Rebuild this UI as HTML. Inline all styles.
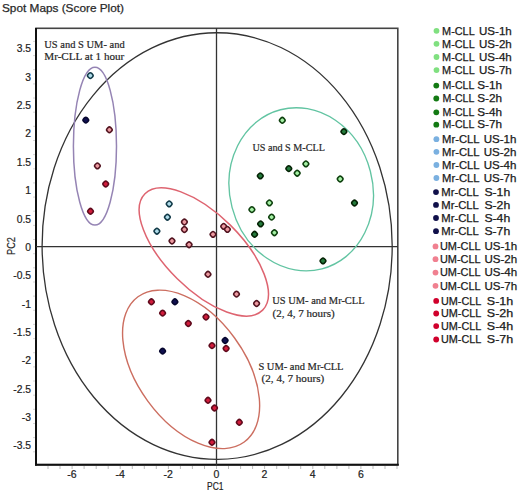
<!DOCTYPE html><html><head><meta charset="utf-8"><style>html,body{margin:0;padding:0;background:#fff;width:520px;height:492px;overflow:hidden}svg{display:block}</style></head><body>
<svg width="520" height="492" viewBox="0 0 520 492">
<rect width="520" height="492" fill="#fff"/>
<text x="2" y="12" font-family="Liberation Sans" font-size="11" fill="#2a2a2a" stroke="#2a2a2a" stroke-width="0.25" textLength="122" lengthAdjust="spacingAndGlyphs">Spot Maps (Score Plot)</text>
<rect x="36" y="28.3" width="361.8" height="436.4" fill="none" stroke="#444" stroke-width="1.6"/>
<line x1="36" y1="28" x2="36" y2="465.5" stroke="#111" stroke-width="2"/>
<line x1="35" y1="464.8" x2="398.8" y2="464.8" stroke="#111" stroke-width="2"/>
<line x1="36" y1="246.6" x2="398" y2="246.6" stroke="#333" stroke-width="1.3"/>
<line x1="216.5" y1="28" x2="216.5" y2="465" stroke="#333" stroke-width="1.3"/>
<line x1="48.0" y1="466" x2="48.0" y2="469" stroke="#aaa" stroke-width="0.8"/>
<line x1="60.0" y1="466" x2="60.0" y2="469" stroke="#aaa" stroke-width="0.8"/>
<line x1="72.1" y1="466" x2="72.1" y2="469" stroke="#aaa" stroke-width="0.8"/>
<line x1="84.1" y1="466" x2="84.1" y2="469" stroke="#aaa" stroke-width="0.8"/>
<line x1="96.2" y1="466" x2="96.2" y2="469" stroke="#aaa" stroke-width="0.8"/>
<line x1="108.2" y1="466" x2="108.2" y2="469" stroke="#aaa" stroke-width="0.8"/>
<line x1="120.2" y1="466" x2="120.2" y2="469" stroke="#aaa" stroke-width="0.8"/>
<line x1="132.3" y1="466" x2="132.3" y2="469" stroke="#aaa" stroke-width="0.8"/>
<line x1="144.3" y1="466" x2="144.3" y2="469" stroke="#aaa" stroke-width="0.8"/>
<line x1="156.3" y1="466" x2="156.3" y2="469" stroke="#aaa" stroke-width="0.8"/>
<line x1="168.4" y1="466" x2="168.4" y2="469" stroke="#aaa" stroke-width="0.8"/>
<line x1="180.4" y1="466" x2="180.4" y2="469" stroke="#aaa" stroke-width="0.8"/>
<line x1="192.4" y1="466" x2="192.4" y2="469" stroke="#aaa" stroke-width="0.8"/>
<line x1="204.5" y1="466" x2="204.5" y2="469" stroke="#aaa" stroke-width="0.8"/>
<line x1="216.5" y1="466" x2="216.5" y2="469" stroke="#aaa" stroke-width="0.8"/>
<line x1="228.5" y1="466" x2="228.5" y2="469" stroke="#aaa" stroke-width="0.8"/>
<line x1="240.6" y1="466" x2="240.6" y2="469" stroke="#aaa" stroke-width="0.8"/>
<line x1="252.6" y1="466" x2="252.6" y2="469" stroke="#aaa" stroke-width="0.8"/>
<line x1="264.6" y1="466" x2="264.6" y2="469" stroke="#aaa" stroke-width="0.8"/>
<line x1="276.7" y1="466" x2="276.7" y2="469" stroke="#aaa" stroke-width="0.8"/>
<line x1="288.7" y1="466" x2="288.7" y2="469" stroke="#aaa" stroke-width="0.8"/>
<line x1="300.7" y1="466" x2="300.7" y2="469" stroke="#aaa" stroke-width="0.8"/>
<line x1="312.8" y1="466" x2="312.8" y2="469" stroke="#aaa" stroke-width="0.8"/>
<line x1="324.8" y1="466" x2="324.8" y2="469" stroke="#aaa" stroke-width="0.8"/>
<line x1="336.9" y1="466" x2="336.9" y2="469" stroke="#aaa" stroke-width="0.8"/>
<line x1="348.9" y1="466" x2="348.9" y2="469" stroke="#aaa" stroke-width="0.8"/>
<line x1="360.9" y1="466" x2="360.9" y2="469" stroke="#aaa" stroke-width="0.8"/>
<line x1="373.0" y1="466" x2="373.0" y2="469" stroke="#aaa" stroke-width="0.8"/>
<line x1="385.0" y1="466" x2="385.0" y2="469" stroke="#aaa" stroke-width="0.8"/>
<line x1="397.0" y1="466" x2="397.0" y2="469" stroke="#aaa" stroke-width="0.8"/>
<line x1="33" y1="41.4" x2="35" y2="41.4" stroke="#ccc" stroke-width="0.8"/>
<line x1="33" y1="55.6" x2="35" y2="55.6" stroke="#ccc" stroke-width="0.8"/>
<line x1="33" y1="69.7" x2="35" y2="69.7" stroke="#ccc" stroke-width="0.8"/>
<line x1="33" y1="83.9" x2="35" y2="83.9" stroke="#ccc" stroke-width="0.8"/>
<line x1="33" y1="98.0" x2="35" y2="98.0" stroke="#ccc" stroke-width="0.8"/>
<line x1="33" y1="112.2" x2="35" y2="112.2" stroke="#ccc" stroke-width="0.8"/>
<line x1="33" y1="126.3" x2="35" y2="126.3" stroke="#ccc" stroke-width="0.8"/>
<line x1="33" y1="140.5" x2="35" y2="140.5" stroke="#ccc" stroke-width="0.8"/>
<line x1="33" y1="154.6" x2="35" y2="154.6" stroke="#ccc" stroke-width="0.8"/>
<line x1="33" y1="168.8" x2="35" y2="168.8" stroke="#ccc" stroke-width="0.8"/>
<line x1="33" y1="182.9" x2="35" y2="182.9" stroke="#ccc" stroke-width="0.8"/>
<line x1="33" y1="197.1" x2="35" y2="197.1" stroke="#ccc" stroke-width="0.8"/>
<line x1="33" y1="211.2" x2="35" y2="211.2" stroke="#ccc" stroke-width="0.8"/>
<line x1="33" y1="225.4" x2="35" y2="225.4" stroke="#ccc" stroke-width="0.8"/>
<line x1="33" y1="239.5" x2="35" y2="239.5" stroke="#ccc" stroke-width="0.8"/>
<line x1="33" y1="253.7" x2="35" y2="253.7" stroke="#ccc" stroke-width="0.8"/>
<line x1="33" y1="267.8" x2="35" y2="267.8" stroke="#ccc" stroke-width="0.8"/>
<line x1="33" y1="282.0" x2="35" y2="282.0" stroke="#ccc" stroke-width="0.8"/>
<line x1="33" y1="296.1" x2="35" y2="296.1" stroke="#ccc" stroke-width="0.8"/>
<line x1="33" y1="310.3" x2="35" y2="310.3" stroke="#ccc" stroke-width="0.8"/>
<line x1="33" y1="324.4" x2="35" y2="324.4" stroke="#ccc" stroke-width="0.8"/>
<line x1="33" y1="338.6" x2="35" y2="338.6" stroke="#ccc" stroke-width="0.8"/>
<line x1="33" y1="352.7" x2="35" y2="352.7" stroke="#ccc" stroke-width="0.8"/>
<line x1="33" y1="366.9" x2="35" y2="366.9" stroke="#ccc" stroke-width="0.8"/>
<line x1="33" y1="381.0" x2="35" y2="381.0" stroke="#ccc" stroke-width="0.8"/>
<line x1="33" y1="395.2" x2="35" y2="395.2" stroke="#ccc" stroke-width="0.8"/>
<line x1="33" y1="409.3" x2="35" y2="409.3" stroke="#ccc" stroke-width="0.8"/>
<line x1="33" y1="423.5" x2="35" y2="423.5" stroke="#ccc" stroke-width="0.8"/>
<line x1="33" y1="437.6" x2="35" y2="437.6" stroke="#ccc" stroke-width="0.8"/>
<line x1="33" y1="451.8" x2="35" y2="451.8" stroke="#ccc" stroke-width="0.8"/>
<text x="71.9" y="478" font-family="Liberation Sans" font-size="10.5" fill="#222" stroke="#222" stroke-width="0.2" text-anchor="middle">-6</text>
<text x="120.1" y="478" font-family="Liberation Sans" font-size="10.5" fill="#222" stroke="#222" stroke-width="0.2" text-anchor="middle">-4</text>
<text x="168.2" y="478" font-family="Liberation Sans" font-size="10.5" fill="#222" stroke="#222" stroke-width="0.2" text-anchor="middle">-2</text>
<text x="216.4" y="478" font-family="Liberation Sans" font-size="10.5" fill="#222" stroke="#222" stroke-width="0.2" text-anchor="middle">0</text>
<text x="264.5" y="478" font-family="Liberation Sans" font-size="10.5" fill="#222" stroke="#222" stroke-width="0.2" text-anchor="middle">2</text>
<text x="312.6" y="478" font-family="Liberation Sans" font-size="10.5" fill="#222" stroke="#222" stroke-width="0.2" text-anchor="middle">4</text>
<text x="360.8" y="478" font-family="Liberation Sans" font-size="10.5" fill="#222" stroke="#222" stroke-width="0.2" text-anchor="middle">6</text>
<text x="215.3" y="490.2" font-family="Liberation Sans" font-size="10.2" fill="#222" stroke="#222" stroke-width="0.2" text-anchor="middle" textLength="16.4" lengthAdjust="spacingAndGlyphs">PC1</text>
<text x="31" y="449.4" font-family="Liberation Sans" font-size="10.3" fill="#222" stroke="#222" stroke-width="0.2" text-anchor="end">-3.5</text>
<text x="31" y="421.0" font-family="Liberation Sans" font-size="10.3" fill="#222" stroke="#222" stroke-width="0.2" text-anchor="end">-3</text>
<text x="31" y="392.7" font-family="Liberation Sans" font-size="10.3" fill="#222" stroke="#222" stroke-width="0.2" text-anchor="end">-2.5</text>
<text x="31" y="364.3" font-family="Liberation Sans" font-size="10.3" fill="#222" stroke="#222" stroke-width="0.2" text-anchor="end">-2</text>
<text x="31" y="335.9" font-family="Liberation Sans" font-size="10.3" fill="#222" stroke="#222" stroke-width="0.2" text-anchor="end">-1.5</text>
<text x="31" y="307.6" font-family="Liberation Sans" font-size="10.3" fill="#222" stroke="#222" stroke-width="0.2" text-anchor="end">-1</text>
<text x="31" y="279.2" font-family="Liberation Sans" font-size="10.3" fill="#222" stroke="#222" stroke-width="0.2" text-anchor="end">-0.5</text>
<text x="31" y="250.9" font-family="Liberation Sans" font-size="10.3" fill="#222" stroke="#222" stroke-width="0.2" text-anchor="end">0</text>
<text x="31" y="222.5" font-family="Liberation Sans" font-size="10.3" fill="#222" stroke="#222" stroke-width="0.2" text-anchor="end">0.5</text>
<text x="31" y="194.1" font-family="Liberation Sans" font-size="10.3" fill="#222" stroke="#222" stroke-width="0.2" text-anchor="end">1</text>
<text x="31" y="165.8" font-family="Liberation Sans" font-size="10.3" fill="#222" stroke="#222" stroke-width="0.2" text-anchor="end">1.5</text>
<text x="31" y="137.4" font-family="Liberation Sans" font-size="10.3" fill="#222" stroke="#222" stroke-width="0.2" text-anchor="end">2</text>
<text x="31" y="109.1" font-family="Liberation Sans" font-size="10.3" fill="#222" stroke="#222" stroke-width="0.2" text-anchor="end">2.5</text>
<text x="31" y="80.7" font-family="Liberation Sans" font-size="10.3" fill="#222" stroke="#222" stroke-width="0.2" text-anchor="end">3</text>
<text x="31" y="52.3" font-family="Liberation Sans" font-size="10.3" fill="#222" stroke="#222" stroke-width="0.2" text-anchor="end">3.5</text>
<text transform="translate(15.0,246) rotate(-90)" font-family="Liberation Sans" font-size="10.2" fill="#222" stroke="#222" stroke-width="0.2" text-anchor="middle" textLength="17.8" lengthAdjust="spacingAndGlyphs">PC2</text>
<ellipse cx="217.15" cy="246.05" rx="175.04" ry="213.29" transform="rotate(-0.18 217.15 246.05)" fill="none" stroke="#333" stroke-width="1.3"/>
<ellipse cx="94.95" cy="146.2" rx="21.55" ry="78.9" transform="rotate(0 94.95 146.2)" fill="none" stroke="#9584b4" stroke-width="1.5"/>
<ellipse cx="301.2" cy="189.3" rx="71.46" ry="82.21" transform="rotate(-14.63 301.2 189.3)" fill="none" stroke="#62c4a2" stroke-width="1.35"/>
<ellipse cx="203.8" cy="251.95" rx="82.75" ry="37.71" transform="rotate(44.68 203.8 251.95)" fill="none" stroke="#de6470" stroke-width="1.5"/>
<ellipse cx="191.1" cy="369.4" rx="90.0" ry="53.66" transform="rotate(53.82 191.1 369.4)" fill="none" stroke="#cc6e60" stroke-width="1.4"/>
<rect x="-2.5" y="-2.5" width="5.0" height="5.0" rx="1.9" transform="translate(90.3 75.6) rotate(45)" fill="#b0dcea" stroke="#123a48" stroke-width="1.55"/>
<rect x="-2.5" y="-2.5" width="5.0" height="5.0" rx="1.9" transform="translate(169.2 203.9) rotate(45)" fill="#b0dcea" stroke="#123a48" stroke-width="1.55"/>
<rect x="-2.5" y="-2.5" width="5.0" height="5.0" rx="1.9" transform="translate(167.4 217.2) rotate(45)" fill="#b0dcea" stroke="#123a48" stroke-width="1.55"/>
<rect x="-2.5" y="-2.5" width="5.0" height="5.0" rx="1.9" transform="translate(156.9 231.2) rotate(45)" fill="#b0dcea" stroke="#123a48" stroke-width="1.55"/>
<rect x="-2.5" y="-2.5" width="5.0" height="5.0" rx="1.9" transform="translate(85.8 120.1) rotate(45)" fill="#101050" stroke="#06062e" stroke-width="1.55"/>
<rect x="-2.5" y="-2.5" width="5.0" height="5.0" rx="1.9" transform="translate(174.9 301.8) rotate(45)" fill="#101050" stroke="#06062e" stroke-width="1.55"/>
<rect x="-2.5" y="-2.5" width="5.0" height="5.0" rx="1.9" transform="translate(225.1 340.5) rotate(45)" fill="#101050" stroke="#06062e" stroke-width="1.55"/>
<rect x="-2.5" y="-2.5" width="5.0" height="5.0" rx="1.9" transform="translate(162.6 351.1) rotate(45)" fill="#101050" stroke="#06062e" stroke-width="1.55"/>
<rect x="-2.5" y="-2.5" width="5.0" height="5.0" rx="1.9" transform="translate(109.4 129.8) rotate(45)" fill="#ec9aa0" stroke="#521420" stroke-width="1.55"/>
<rect x="-2.5" y="-2.5" width="5.0" height="5.0" rx="1.9" transform="translate(97.4 165.9) rotate(45)" fill="#ec9aa0" stroke="#521420" stroke-width="1.55"/>
<rect x="-2.5" y="-2.5" width="5.0" height="5.0" rx="1.9" transform="translate(184.4 222.0) rotate(45)" fill="#ec9aa0" stroke="#521420" stroke-width="1.55"/>
<rect x="-2.5" y="-2.5" width="5.0" height="5.0" rx="1.9" transform="translate(184.4 229.5) rotate(45)" fill="#ec9aa0" stroke="#521420" stroke-width="1.55"/>
<rect x="-2.5" y="-2.5" width="5.0" height="5.0" rx="1.9" transform="translate(172.0 241.0) rotate(45)" fill="#ec9aa0" stroke="#521420" stroke-width="1.55"/>
<rect x="-2.5" y="-2.5" width="5.0" height="5.0" rx="1.9" transform="translate(189.1 244.7) rotate(45)" fill="#ec9aa0" stroke="#521420" stroke-width="1.55"/>
<rect x="-2.5" y="-2.5" width="5.0" height="5.0" rx="1.9" transform="translate(213.0 234.4) rotate(45)" fill="#ec9aa0" stroke="#521420" stroke-width="1.55"/>
<rect x="-2.5" y="-2.5" width="5.0" height="5.0" rx="1.9" transform="translate(223.7 226.4) rotate(45)" fill="#ec9aa0" stroke="#521420" stroke-width="1.55"/>
<rect x="-2.5" y="-2.5" width="5.0" height="5.0" rx="1.9" transform="translate(227.4 229.4) rotate(45)" fill="#ec9aa0" stroke="#521420" stroke-width="1.55"/>
<rect x="-2.5" y="-2.5" width="5.0" height="5.0" rx="1.9" transform="translate(208.0 274.3) rotate(45)" fill="#ec9aa0" stroke="#521420" stroke-width="1.55"/>
<rect x="-2.5" y="-2.5" width="5.0" height="5.0" rx="1.9" transform="translate(236.5 294.1) rotate(45)" fill="#ec9aa0" stroke="#521420" stroke-width="1.55"/>
<rect x="-2.5" y="-2.5" width="5.0" height="5.0" rx="1.9" transform="translate(256.6 303.5) rotate(45)" fill="#ec9aa0" stroke="#521420" stroke-width="1.55"/>
<rect x="-2.5" y="-2.5" width="5.0" height="5.0" rx="1.9" transform="translate(105.7 184.0) rotate(45)" fill="#d21c3c" stroke="#600a1c" stroke-width="1.55"/>
<rect x="-2.5" y="-2.5" width="5.0" height="5.0" rx="1.9" transform="translate(90.5 211.3) rotate(45)" fill="#d21c3c" stroke="#600a1c" stroke-width="1.55"/>
<rect x="-2.5" y="-2.5" width="5.0" height="5.0" rx="1.9" transform="translate(151.4 301.8) rotate(45)" fill="#d21c3c" stroke="#600a1c" stroke-width="1.55"/>
<rect x="-2.5" y="-2.5" width="5.0" height="5.0" rx="1.9" transform="translate(162.6 313.1) rotate(45)" fill="#d21c3c" stroke="#600a1c" stroke-width="1.55"/>
<rect x="-2.5" y="-2.5" width="5.0" height="5.0" rx="1.9" transform="translate(188.3 323.5) rotate(45)" fill="#d21c3c" stroke="#600a1c" stroke-width="1.55"/>
<rect x="-2.5" y="-2.5" width="5.0" height="5.0" rx="1.9" transform="translate(206.0 317.0) rotate(45)" fill="#d21c3c" stroke="#600a1c" stroke-width="1.55"/>
<rect x="-2.5" y="-2.5" width="5.0" height="5.0" rx="1.9" transform="translate(212.0 345.6) rotate(45)" fill="#d21c3c" stroke="#600a1c" stroke-width="1.55"/>
<rect x="-2.5" y="-2.5" width="5.0" height="5.0" rx="1.9" transform="translate(226.1 348.5) rotate(45)" fill="#d21c3c" stroke="#600a1c" stroke-width="1.55"/>
<rect x="-2.5" y="-2.5" width="5.0" height="5.0" rx="1.9" transform="translate(208.0 400.3) rotate(45)" fill="#d21c3c" stroke="#600a1c" stroke-width="1.55"/>
<rect x="-2.5" y="-2.5" width="5.0" height="5.0" rx="1.9" transform="translate(214.5 408.0) rotate(45)" fill="#d21c3c" stroke="#600a1c" stroke-width="1.55"/>
<rect x="-2.5" y="-2.5" width="5.0" height="5.0" rx="1.9" transform="translate(239.3 422.3) rotate(45)" fill="#d21c3c" stroke="#600a1c" stroke-width="1.55"/>
<rect x="-2.5" y="-2.5" width="5.0" height="5.0" rx="1.9" transform="translate(212.0 442.3) rotate(45)" fill="#d21c3c" stroke="#600a1c" stroke-width="1.55"/>
<rect x="-2.5" y="-2.5" width="5.0" height="5.0" rx="1.9" transform="translate(282.3 120.3) rotate(45)" fill="#a4f0a4" stroke="#0e400e" stroke-width="1.55"/>
<rect x="-2.5" y="-2.5" width="5.0" height="5.0" rx="1.9" transform="translate(305.9 163.9) rotate(45)" fill="#a4f0a4" stroke="#0e400e" stroke-width="1.55"/>
<rect x="-2.5" y="-2.5" width="5.0" height="5.0" rx="1.9" transform="translate(297.2 173.2) rotate(45)" fill="#a4f0a4" stroke="#0e400e" stroke-width="1.55"/>
<rect x="-2.5" y="-2.5" width="5.0" height="5.0" rx="1.9" transform="translate(340.2 179.0) rotate(45)" fill="#a4f0a4" stroke="#0e400e" stroke-width="1.55"/>
<rect x="-2.5" y="-2.5" width="5.0" height="5.0" rx="1.9" transform="translate(269.4 202.9) rotate(45)" fill="#a4f0a4" stroke="#0e400e" stroke-width="1.55"/>
<rect x="-2.5" y="-2.5" width="5.0" height="5.0" rx="1.9" transform="translate(251.9 209.6) rotate(45)" fill="#a4f0a4" stroke="#0e400e" stroke-width="1.55"/>
<rect x="-2.5" y="-2.5" width="5.0" height="5.0" rx="1.9" transform="translate(271.6 217.1) rotate(45)" fill="#a4f0a4" stroke="#0e400e" stroke-width="1.55"/>
<rect x="-2.5" y="-2.5" width="5.0" height="5.0" rx="1.9" transform="translate(274.4 232.7) rotate(45)" fill="#a4f0a4" stroke="#0e400e" stroke-width="1.55"/>
<rect x="-2.5" y="-2.5" width="5.0" height="5.0" rx="1.9" transform="translate(343.9 131.6) rotate(45)" fill="#247a3c" stroke="#042204" stroke-width="1.55"/>
<rect x="-2.5" y="-2.5" width="5.0" height="5.0" rx="1.9" transform="translate(288.8 168.6) rotate(45)" fill="#247a3c" stroke="#042204" stroke-width="1.55"/>
<rect x="-2.5" y="-2.5" width="5.0" height="5.0" rx="1.9" transform="translate(260.3 175.9) rotate(45)" fill="#247a3c" stroke="#042204" stroke-width="1.55"/>
<rect x="-2.5" y="-2.5" width="5.0" height="5.0" rx="1.9" transform="translate(354.5 203.0) rotate(45)" fill="#247a3c" stroke="#042204" stroke-width="1.55"/>
<rect x="-2.5" y="-2.5" width="5.0" height="5.0" rx="1.9" transform="translate(260.6 223.9) rotate(45)" fill="#247a3c" stroke="#042204" stroke-width="1.55"/>
<rect x="-2.5" y="-2.5" width="5.0" height="5.0" rx="1.9" transform="translate(254.6 234.3) rotate(45)" fill="#247a3c" stroke="#042204" stroke-width="1.55"/>
<rect x="-2.5" y="-2.5" width="5.0" height="5.0" rx="1.9" transform="translate(323.0 260.9) rotate(45)" fill="#247a3c" stroke="#042204" stroke-width="1.55"/>
<text x="44.3" y="47.8" textLength="80.4" lengthAdjust="spacingAndGlyphs" font-family="Liberation Serif" font-size="10.5" fill="#262626" stroke="#262626" stroke-width="0.2">US and S UM- and</text>
<text x="44.3" y="60" textLength="80.0" lengthAdjust="spacingAndGlyphs" font-family="Liberation Serif" font-size="10.5" fill="#262626" stroke="#262626" stroke-width="0.2">Mr-CLL at 1 hour</text>
<text x="252.4" y="151.2" textLength="72.5" lengthAdjust="spacingAndGlyphs" font-family="Liberation Serif" font-size="10.5" fill="#262626" stroke="#262626" stroke-width="0.2">US and S M-CLL</text>
<text x="272.3" y="303.7" textLength="92.3" lengthAdjust="spacingAndGlyphs" font-family="Liberation Serif" font-size="10.5" fill="#262626" stroke="#262626" stroke-width="0.2">US UM- and Mr-CLL</text>
<text x="272.5" y="316.5" textLength="62.1" lengthAdjust="spacingAndGlyphs" font-family="Liberation Serif" font-size="10.5" fill="#262626" stroke="#262626" stroke-width="0.2">(2, 4, 7 hours)</text>
<text x="258.4" y="370" textLength="85.1" lengthAdjust="spacingAndGlyphs" font-family="Liberation Serif" font-size="10.5" fill="#262626" stroke="#262626" stroke-width="0.2">S UM- and Mr-CLL</text>
<text x="261.6" y="381.9" textLength="62.6" lengthAdjust="spacingAndGlyphs" font-family="Liberation Serif" font-size="10.5" fill="#262626" stroke="#262626" stroke-width="0.2">(2, 4, 7 hours)</text>
<circle cx="436.5" cy="30.8" r="2.9" fill="#80e080"/>
<text x="442.1" y="34.5" textLength="32.6" font-family="Liberation Sans" font-size="10.5" fill="#1a1a1a" stroke="#1a1a1a" stroke-width="0.25" lengthAdjust="spacingAndGlyphs">M-CLL</text>
<text x="479.0" y="34.5" textLength="32.8" font-family="Liberation Sans" font-size="10.5" fill="#1a1a1a" stroke="#1a1a1a" stroke-width="0.25" lengthAdjust="spacingAndGlyphs">US-1h</text>
<circle cx="436.5" cy="43.8" r="2.9" fill="#80e080"/>
<text x="442.1" y="47.5" textLength="32.6" font-family="Liberation Sans" font-size="10.5" fill="#1a1a1a" stroke="#1a1a1a" stroke-width="0.25" lengthAdjust="spacingAndGlyphs">M-CLL</text>
<text x="479.0" y="47.5" textLength="32.8" font-family="Liberation Sans" font-size="10.5" fill="#1a1a1a" stroke="#1a1a1a" stroke-width="0.25" lengthAdjust="spacingAndGlyphs">US-2h</text>
<circle cx="436.5" cy="57.0" r="2.9" fill="#80e080"/>
<text x="442.1" y="60.7" textLength="32.6" font-family="Liberation Sans" font-size="10.5" fill="#1a1a1a" stroke="#1a1a1a" stroke-width="0.25" lengthAdjust="spacingAndGlyphs">M-CLL</text>
<text x="479.0" y="60.7" textLength="32.8" font-family="Liberation Sans" font-size="10.5" fill="#1a1a1a" stroke="#1a1a1a" stroke-width="0.25" lengthAdjust="spacingAndGlyphs">US-4h</text>
<circle cx="436.5" cy="70.1" r="2.9" fill="#80e080"/>
<text x="442.1" y="73.8" textLength="32.6" font-family="Liberation Sans" font-size="10.5" fill="#1a1a1a" stroke="#1a1a1a" stroke-width="0.25" lengthAdjust="spacingAndGlyphs">M-CLL</text>
<text x="479.0" y="73.8" textLength="32.8" font-family="Liberation Sans" font-size="10.5" fill="#1a1a1a" stroke="#1a1a1a" stroke-width="0.25" lengthAdjust="spacingAndGlyphs">US-7h</text>
<circle cx="436.3" cy="85.6" r="2.9" fill="#137a13"/>
<text x="442.5" y="89.3" textLength="31.9" font-family="Liberation Sans" font-size="10.5" fill="#1a1a1a" stroke="#1a1a1a" stroke-width="0.25" lengthAdjust="spacingAndGlyphs">M-CLL</text>
<text x="477.2" y="89.3" textLength="24.8" font-family="Liberation Sans" font-size="10.5" fill="#1a1a1a" stroke="#1a1a1a" stroke-width="0.25" lengthAdjust="spacingAndGlyphs">S-1h</text>
<circle cx="436.3" cy="98.5" r="2.9" fill="#137a13"/>
<text x="442.5" y="102.2" textLength="31.9" font-family="Liberation Sans" font-size="10.5" fill="#1a1a1a" stroke="#1a1a1a" stroke-width="0.25" lengthAdjust="spacingAndGlyphs">M-CLL</text>
<text x="477.2" y="102.2" textLength="24.8" font-family="Liberation Sans" font-size="10.5" fill="#1a1a1a" stroke="#1a1a1a" stroke-width="0.25" lengthAdjust="spacingAndGlyphs">S-2h</text>
<circle cx="436.3" cy="112.3" r="2.9" fill="#137a13"/>
<text x="442.5" y="116.0" textLength="31.9" font-family="Liberation Sans" font-size="10.5" fill="#1a1a1a" stroke="#1a1a1a" stroke-width="0.25" lengthAdjust="spacingAndGlyphs">M-CLL</text>
<text x="477.2" y="116.0" textLength="24.8" font-family="Liberation Sans" font-size="10.5" fill="#1a1a1a" stroke="#1a1a1a" stroke-width="0.25" lengthAdjust="spacingAndGlyphs">S-4h</text>
<circle cx="436.3" cy="124.7" r="2.9" fill="#137a13"/>
<text x="442.5" y="128.4" textLength="31.9" font-family="Liberation Sans" font-size="10.5" fill="#1a1a1a" stroke="#1a1a1a" stroke-width="0.25" lengthAdjust="spacingAndGlyphs">M-CLL</text>
<text x="477.2" y="128.4" textLength="24.8" font-family="Liberation Sans" font-size="10.5" fill="#1a1a1a" stroke="#1a1a1a" stroke-width="0.25" lengthAdjust="spacingAndGlyphs">S-7h</text>
<circle cx="436.4" cy="139.2" r="2.9" fill="#7ab0e0"/>
<text x="442.1" y="142.9" textLength="37.5" font-family="Liberation Sans" font-size="10.5" fill="#1a1a1a" stroke="#1a1a1a" stroke-width="0.25" lengthAdjust="spacingAndGlyphs">Mr-CLL</text>
<text x="483.7" y="142.9" textLength="32.8" font-family="Liberation Sans" font-size="10.5" fill="#1a1a1a" stroke="#1a1a1a" stroke-width="0.25" lengthAdjust="spacingAndGlyphs">US-1h</text>
<circle cx="436.4" cy="151.8" r="2.9" fill="#7ab0e0"/>
<text x="442.1" y="155.5" textLength="37.5" font-family="Liberation Sans" font-size="10.5" fill="#1a1a1a" stroke="#1a1a1a" stroke-width="0.25" lengthAdjust="spacingAndGlyphs">Mr-CLL</text>
<text x="483.7" y="155.5" textLength="32.8" font-family="Liberation Sans" font-size="10.5" fill="#1a1a1a" stroke="#1a1a1a" stroke-width="0.25" lengthAdjust="spacingAndGlyphs">US-2h</text>
<circle cx="436.4" cy="165.0" r="2.9" fill="#7ab0e0"/>
<text x="442.1" y="168.7" textLength="37.5" font-family="Liberation Sans" font-size="10.5" fill="#1a1a1a" stroke="#1a1a1a" stroke-width="0.25" lengthAdjust="spacingAndGlyphs">Mr-CLL</text>
<text x="483.7" y="168.7" textLength="32.8" font-family="Liberation Sans" font-size="10.5" fill="#1a1a1a" stroke="#1a1a1a" stroke-width="0.25" lengthAdjust="spacingAndGlyphs">US-4h</text>
<circle cx="436.4" cy="178.0" r="2.9" fill="#7ab0e0"/>
<text x="442.1" y="181.7" textLength="37.5" font-family="Liberation Sans" font-size="10.5" fill="#1a1a1a" stroke="#1a1a1a" stroke-width="0.25" lengthAdjust="spacingAndGlyphs">Mr-CLL</text>
<text x="483.7" y="181.7" textLength="32.8" font-family="Liberation Sans" font-size="10.5" fill="#1a1a1a" stroke="#1a1a1a" stroke-width="0.25" lengthAdjust="spacingAndGlyphs">US-7h</text>
<circle cx="436.0" cy="192.1" r="2.9" fill="#10104a"/>
<text x="441.3" y="195.8" textLength="37.6" font-family="Liberation Sans" font-size="10.5" fill="#1a1a1a" stroke="#1a1a1a" stroke-width="0.25" lengthAdjust="spacingAndGlyphs">Mr-CLL</text>
<text x="484.4" y="195.8" textLength="25.8" font-family="Liberation Sans" font-size="10.5" fill="#1a1a1a" stroke="#1a1a1a" stroke-width="0.25" lengthAdjust="spacingAndGlyphs">S-1h</text>
<circle cx="436.0" cy="204.9" r="2.9" fill="#10104a"/>
<text x="441.3" y="208.6" textLength="37.6" font-family="Liberation Sans" font-size="10.5" fill="#1a1a1a" stroke="#1a1a1a" stroke-width="0.25" lengthAdjust="spacingAndGlyphs">Mr-CLL</text>
<text x="484.4" y="208.6" textLength="25.8" font-family="Liberation Sans" font-size="10.5" fill="#1a1a1a" stroke="#1a1a1a" stroke-width="0.25" lengthAdjust="spacingAndGlyphs">S-2h</text>
<circle cx="436.0" cy="218.0" r="2.9" fill="#10104a"/>
<text x="441.3" y="221.7" textLength="37.6" font-family="Liberation Sans" font-size="10.5" fill="#1a1a1a" stroke="#1a1a1a" stroke-width="0.25" lengthAdjust="spacingAndGlyphs">Mr-CLL</text>
<text x="484.4" y="221.7" textLength="25.8" font-family="Liberation Sans" font-size="10.5" fill="#1a1a1a" stroke="#1a1a1a" stroke-width="0.25" lengthAdjust="spacingAndGlyphs">S-4h</text>
<circle cx="436.0" cy="231.2" r="2.9" fill="#10104a"/>
<text x="441.3" y="234.9" textLength="37.6" font-family="Liberation Sans" font-size="10.5" fill="#1a1a1a" stroke="#1a1a1a" stroke-width="0.25" lengthAdjust="spacingAndGlyphs">Mr-CLL</text>
<text x="484.4" y="234.9" textLength="25.8" font-family="Liberation Sans" font-size="10.5" fill="#1a1a1a" stroke="#1a1a1a" stroke-width="0.25" lengthAdjust="spacingAndGlyphs">S-7h</text>
<circle cx="435.5" cy="246.4" r="2.9" fill="#f08090"/>
<text x="439.9" y="250.1" textLength="40.7" font-family="Liberation Sans" font-size="10.5" fill="#1a1a1a" stroke="#1a1a1a" stroke-width="0.25" lengthAdjust="spacingAndGlyphs">UM-CLL</text>
<text x="484.4" y="250.1" textLength="32.7" font-family="Liberation Sans" font-size="10.5" fill="#1a1a1a" stroke="#1a1a1a" stroke-width="0.25" lengthAdjust="spacingAndGlyphs">US-1h</text>
<circle cx="435.5" cy="259.2" r="2.9" fill="#f08090"/>
<text x="439.9" y="262.9" textLength="40.7" font-family="Liberation Sans" font-size="10.5" fill="#1a1a1a" stroke="#1a1a1a" stroke-width="0.25" lengthAdjust="spacingAndGlyphs">UM-CLL</text>
<text x="484.4" y="262.9" textLength="32.7" font-family="Liberation Sans" font-size="10.5" fill="#1a1a1a" stroke="#1a1a1a" stroke-width="0.25" lengthAdjust="spacingAndGlyphs">US-2h</text>
<circle cx="435.5" cy="272.6" r="2.9" fill="#f08090"/>
<text x="439.9" y="276.3" textLength="40.7" font-family="Liberation Sans" font-size="10.5" fill="#1a1a1a" stroke="#1a1a1a" stroke-width="0.25" lengthAdjust="spacingAndGlyphs">UM-CLL</text>
<text x="484.4" y="276.3" textLength="32.7" font-family="Liberation Sans" font-size="10.5" fill="#1a1a1a" stroke="#1a1a1a" stroke-width="0.25" lengthAdjust="spacingAndGlyphs">US-4h</text>
<circle cx="435.5" cy="285.8" r="2.9" fill="#f08090"/>
<text x="439.9" y="289.5" textLength="40.7" font-family="Liberation Sans" font-size="10.5" fill="#1a1a1a" stroke="#1a1a1a" stroke-width="0.25" lengthAdjust="spacingAndGlyphs">UM-CLL</text>
<text x="484.4" y="289.5" textLength="32.7" font-family="Liberation Sans" font-size="10.5" fill="#1a1a1a" stroke="#1a1a1a" stroke-width="0.25" lengthAdjust="spacingAndGlyphs">US-7h</text>
<circle cx="436.2" cy="300.9" r="2.9" fill="#d0002c"/>
<text x="441.0" y="304.6" textLength="40.3" font-family="Liberation Sans" font-size="10.5" fill="#1a1a1a" stroke="#1a1a1a" stroke-width="0.25" lengthAdjust="spacingAndGlyphs">UM-CLL</text>
<text x="486.8" y="304.6" textLength="26.4" font-family="Liberation Sans" font-size="10.5" fill="#1a1a1a" stroke="#1a1a1a" stroke-width="0.25" lengthAdjust="spacingAndGlyphs">S-1h</text>
<circle cx="436.2" cy="313.5" r="2.9" fill="#d0002c"/>
<text x="441.0" y="317.2" textLength="40.3" font-family="Liberation Sans" font-size="10.5" fill="#1a1a1a" stroke="#1a1a1a" stroke-width="0.25" lengthAdjust="spacingAndGlyphs">UM-CLL</text>
<text x="486.8" y="317.2" textLength="26.4" font-family="Liberation Sans" font-size="10.5" fill="#1a1a1a" stroke="#1a1a1a" stroke-width="0.25" lengthAdjust="spacingAndGlyphs">S-2h</text>
<circle cx="436.2" cy="326.1" r="2.9" fill="#d0002c"/>
<text x="441.0" y="329.8" textLength="40.3" font-family="Liberation Sans" font-size="10.5" fill="#1a1a1a" stroke="#1a1a1a" stroke-width="0.25" lengthAdjust="spacingAndGlyphs">UM-CLL</text>
<text x="486.8" y="329.8" textLength="26.4" font-family="Liberation Sans" font-size="10.5" fill="#1a1a1a" stroke="#1a1a1a" stroke-width="0.25" lengthAdjust="spacingAndGlyphs">S-4h</text>
<circle cx="436.2" cy="339.5" r="2.9" fill="#d0002c"/>
<text x="441.0" y="343.2" textLength="40.3" font-family="Liberation Sans" font-size="10.5" fill="#1a1a1a" stroke="#1a1a1a" stroke-width="0.25" lengthAdjust="spacingAndGlyphs">UM-CLL</text>
<text x="486.8" y="343.2" textLength="26.4" font-family="Liberation Sans" font-size="10.5" fill="#1a1a1a" stroke="#1a1a1a" stroke-width="0.25" lengthAdjust="spacingAndGlyphs">S-7h</text>
</svg></body></html>
